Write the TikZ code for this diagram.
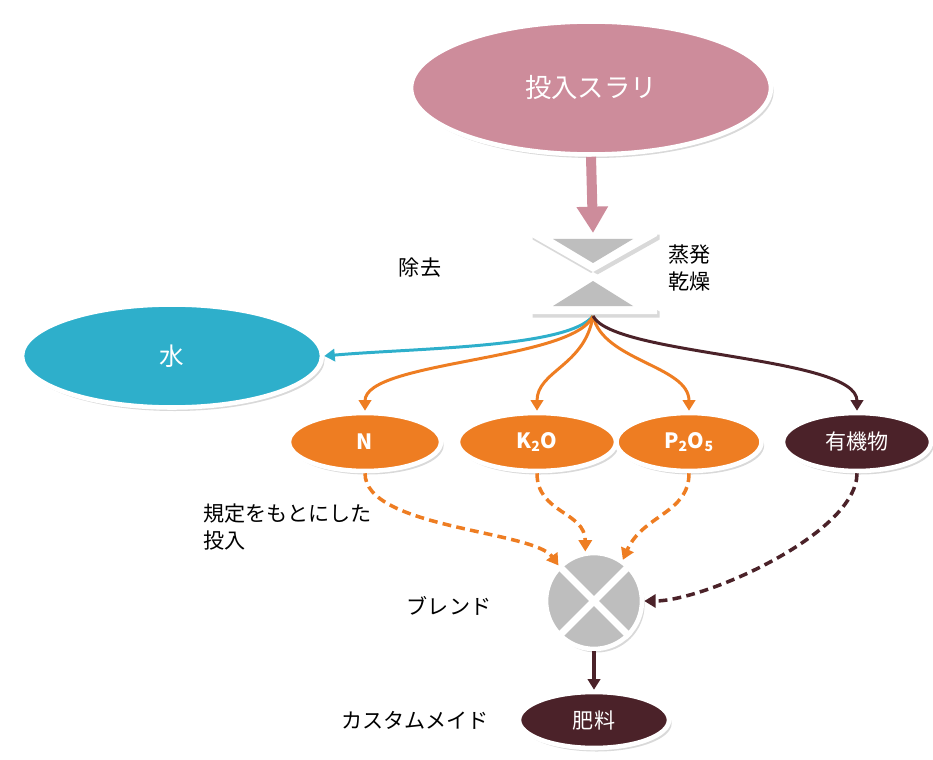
\documentclass[tikz,border=0pt]{standalone}
\usepackage{fontspec}
\setmainfont{Noto Sans CJK JP}
\usetikzlibrary{shapes.geometric,arrows.meta,shadows}
\definecolor{slurry}{HTML}{CD8C9B}
\definecolor{water}{HTML}{2EAFCB}
\definecolor{nutri}{HTML}{EE7D22}
\definecolor{organic}{HTML}{4B2229}
\definecolor{mixgray}{HTML}{BEBEBE}
\tikzset{
  blob/.style={ellipse, draw=white, line width=2.6pt, text=white,
    drop shadow={opacity=.3, shadow xshift=1.5pt, shadow yshift=-2pt}},
  flow/.style={line width=1.7pt, -{Triangle[width=7pt,length=6pt]}},
  feed/.style={line width=2pt, dash pattern=on 5pt off 3pt,
    -{Triangle[width=7.5pt,length=6.5pt]}},
  lbl/.style={font=\fontsize{12}{15}\selectfont, align=left},
}
\begin{document}
\begin{tikzpicture}[x=0.02cm, y=-0.02cm]
\useasboundingbox (0,0) rectangle (933,760);

\node[blob, fill=slurry, minimum width=7.2cm, minimum height=2.66cm,
  font=\fontsize{15}{18}\selectfont] (slurry) at (591,88) {投入スラリ};
\node[blob, fill=water, minimum width=6cm, minimum height=2.06cm,
  font=\fontsize{14}{17}\selectfont] (wtr) at (172,356) {水};

\foreach \name/\x/\w/\txt in {n/365/3.04/N, k/537/3.16/K\textsubscript{2}O, p/689/2.9/P\textsubscript{2}O\textsubscript{5}}
{
    \node[blob, fill=nutri, minimum width=\w cm, minimum height=1.16cm,
      font=\bfseries\fontsize{12}{14}\selectfont] (\name) at (\x,442) {\txt};
}
\node[blob, fill=organic, minimum width=2.96cm, minimum height=1.16cm,
  font=\fontsize{12}{14}\selectfont] (org) at (857,442) {有機物};

\node[circle, fill=mixgray, draw=white, line width=2.6pt, minimum size=1.92cm,
  drop shadow={opacity=.3, shadow xshift=1.5pt, shadow yshift=-2pt}] (blend) at (594,601) {};
\draw[white, line width=4pt] (blend.45)--(blend.225) (blend.135)--(blend.-45);

\node[blob, fill=organic, minimum width=3cm, minimum height=1.12cm,
  font=\fontsize{12}{14}\selectfont] (fert) at (594,720) {肥料};

% hourglass
\path[fill=white, drop shadow={opacity=.3, shadow xshift=1.5pt, shadow yshift=-2pt}]
  (530,231)--(657,231)--(657,236)--(593,272)--(657,308)--(657,314)
  --(530,314)--(530,308)--(593,272)--(530,236)--cycle;
\fill[mixgray] (553,239)--(633,239)--(593,263)--cycle;
\fill[mixgray] (593,281)--(633,306)--(553,306)--cycle;
\coordinate (dry) at (593,233);
\coordinate (drain) at (593,316);

\draw[slurry, line width=5.7pt, -{Triangle[width=17pt,length=15pt]}] (slurry.south)--(dry);

\draw[flow, water] (drain) .. controls +(-25,32) and +(90,-8) .. (wtr.east);
\draw[flow, nutri] (drain) .. controls +(-20,45) and +(0,-50) .. (n.north);
\draw[flow, nutri] (drain) .. controls +(-8,50) and +(0,-40) .. (k.north);
\draw[flow, nutri] (drain) .. controls +(10,45) and +(0,-45) .. (p.north);
\draw[flow, organic] (drain) .. controls +(20,40) and +(0,-55) .. (org.north);

\draw[feed, nutri] (n.south) .. controls +(0,55) and +(-25,-35) .. (blend.135);
\draw[feed, nutri] (k.south) .. controls +(0,40) and +(0,-40) .. (blend.100);
\draw[feed, nutri] (p.south) .. controls +(0,40) and +(20,-45) .. (blend.55);
\draw[feed, organic] (org.south) .. controls +(0,60) and +(60,0) .. (blend.east);

\draw[flow, organic, line width=2pt] (blend.south)--(fert.north);

\node[lbl] (remove) at (420,268) {除去};
\node[lbl, anchor=west] (evap) at (662,268) {蒸発\\乾燥};
\node[lbl, anchor=west] (dose) at (197,527) {規定をもとにした\\投入};
\node[lbl] (mix) at (449,606) {ブレンド};
\node[lbl] (custom) at (415,720) {カスタムメイド};

\end{tikzpicture}
\end{document}
